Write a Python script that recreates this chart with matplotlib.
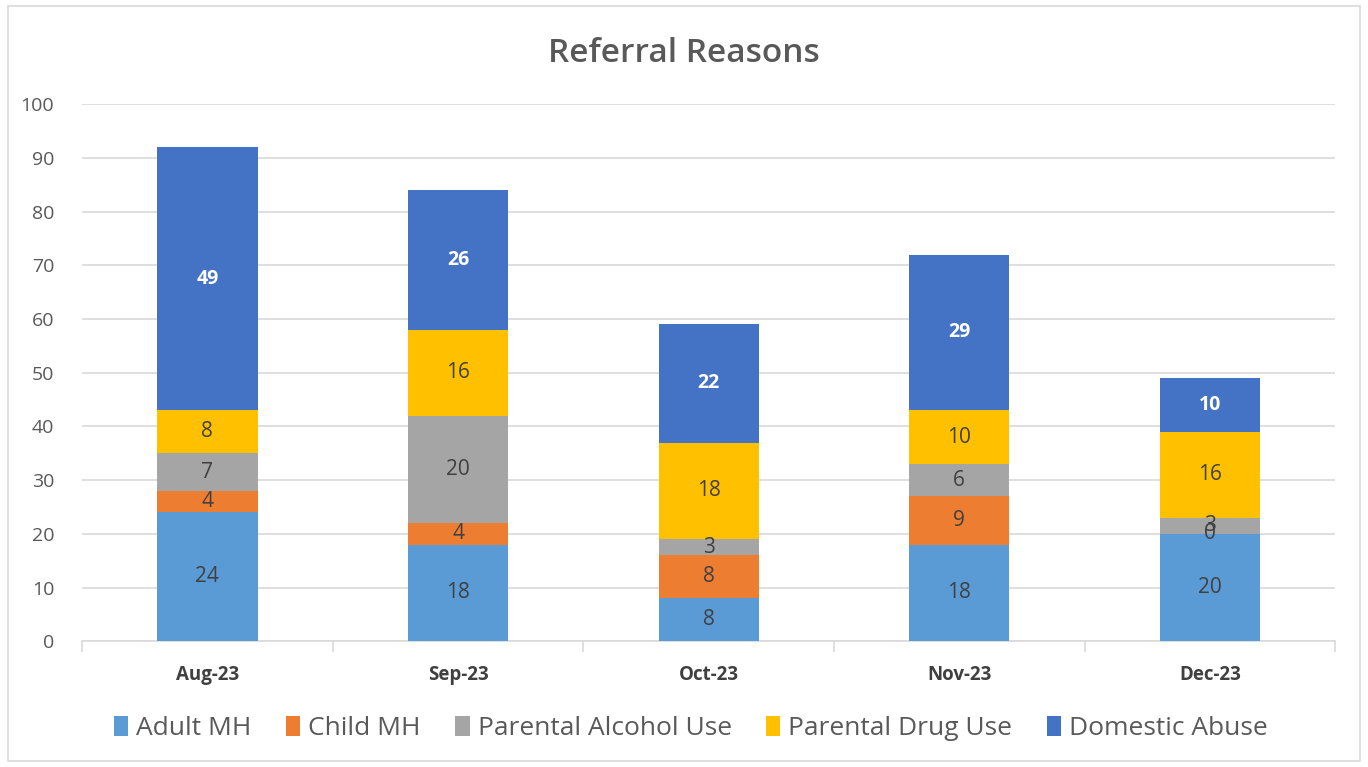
import matplotlib
matplotlib.use("Agg")
import matplotlib.pyplot as plt
import numpy as np
from matplotlib.patches import Rectangle

months = ["Aug-23", "Sep-23", "Oct-23", "Nov-23", "Dec-23"]
series_names = ["Adult MH", "Child MH", "Parental Alcohol Use", "Parental Drug Use", "Domestic Abuse"]
adult_mh = [24, 18, 8, 18, 20]
child_mh = [4, 4, 8, 9, 0]
alcohol = [7, 20, 3, 6, 3]
drug = [8, 16, 18, 10, 16]
domestic = [49, 26, 22, 29, 10]
colors = ["#5B9BD5", "#ED7D31", "#A5A5A5", "#FFC000", "#4472C4"]
yticks = list(range(0, 101, 10))

plt.rcParams['font.family'] = ['Open Sans', 'DejaVu Sans']

fig = plt.figure(figsize=(13.68, 7.67), dpi=100)
fig.patches.append(Rectangle((0.006, 0.008), 0.988, 0.984, transform=fig.transFigure,
                             fill=False, edgecolor="#D9D9D9", linewidth=1.2))
ax = fig.add_axes([0.06, 0.164, 0.916, 0.700])

x = np.arange(len(months))
bottom = np.zeros(len(months))
data = [adult_mh, child_mh, alcohol, drug, domestic]
for i, (name, vals, c) in enumerate(zip(series_names, data, colors)):
    vals = np.array(vals, dtype=float)
    ax.bar(x, vals, 0.4, bottom=bottom, color=c, label=name, zorder=3)
    for xi, v, b in zip(x, vals, bottom):
        if i == 4:
            ax.text(xi, b + v / 2, f"{int(v)}", ha="center", va="center",
                    color="white", fontsize=14, fontweight="bold", zorder=4)
        else:
            ax.text(xi, b + v / 2, f"{int(v)}", ha="center", va="center",
                    color="#404040", fontsize=15, zorder=4)
    bottom += vals

ax.set_xlim(-0.5, len(months) - 0.5)
ax.set_ylim(0, 100)
ax.set_yticks(yticks)
ax.set_yticklabels([str(t) for t in yticks], fontsize=14, color="#595959")
ax.yaxis.grid(True, color="#D9D9D9", linewidth=1.2, zorder=0)
ax.set_axisbelow(True)
ax.tick_params(axis="y", length=0, pad=20)

ax.set_xticks(x)
ax.set_xticklabels(months, fontsize=13.5, color="#404040", fontweight="bold")
ax.tick_params(axis="x", length=0, pad=17)
ax.set_xticks(np.arange(-0.5, len(months), 1.0), minor=True)
ax.tick_params(axis="x", which="minor", length=8, color="#D9D9D9", width=1.2)

for s in ["top", "right", "left"]:
    ax.spines[s].set_visible(False)
ax.spines["bottom"].set_color("#D9D9D9")
ax.spines["bottom"].set_linewidth(1.2)

fig.text(0.5, 0.93, "Referral Reasons", ha="center", va="center", fontsize=24,
         color="#595959", fontweight="semibold")

leg = fig.legend(loc="center", bbox_to_anchor=(0.505, 0.05), ncol=5, frameon=False,
                 fontsize=19, handlelength=0.55, handleheight=0.8, handletextpad=0.3,
                 columnspacing=1.3)
for t in leg.get_texts():
    t.set_color("#595959")

fig.savefig("out.png", dpi=100)
